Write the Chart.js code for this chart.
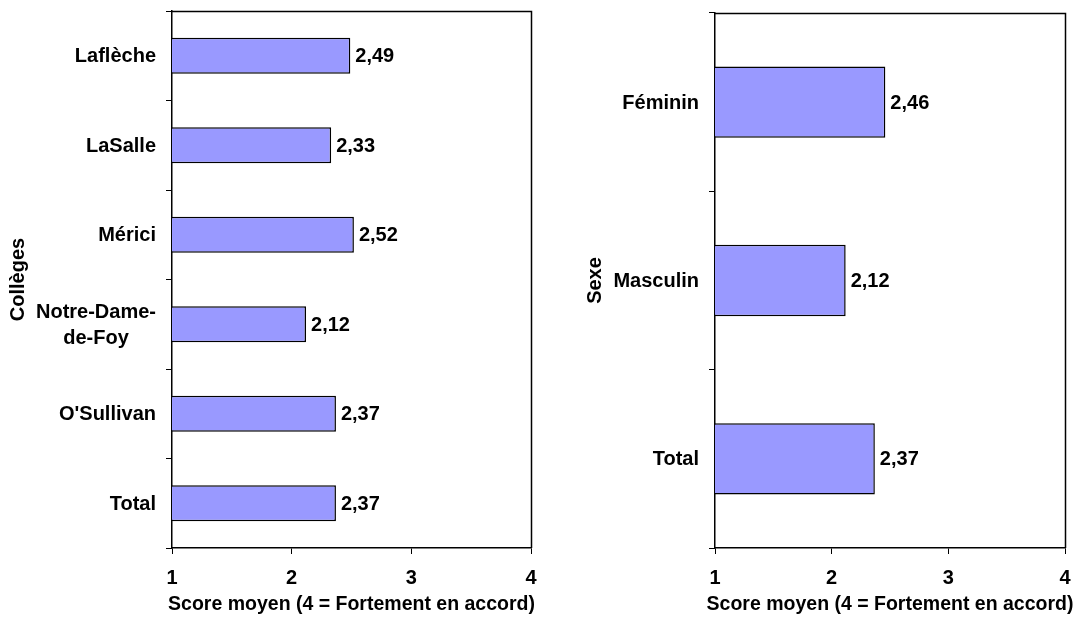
<!DOCTYPE html>
<html>
<head>
<meta charset="utf-8">
<script src="https://cdn.jsdelivr.net/npm/chart.js@4.4.1/dist/chart.umd.min.js"></script>
<style>
  html, body { margin: 0; padding: 0; background: #fff; }
  .box { position: absolute; top: 0; height: 621px; }
  #left { left: 0; width: 545px; }
  #right { left: 545px; width: 533px; }
</style>
</head>
<body>
<div class="box" id="left"><canvas id="collegesChart"></canvas></div>
<div class="box" id="right"><canvas id="sexeChart"></canvas></div>
<script>
// data
const collegeLabels = ['Laflèche', 'LaSalle', 'Mérici', ['Notre-Dame-', 'de-Foy'], "O'Sullivan", 'Total'];
const collegeScores = [2.49, 2.33, 2.52, 2.12, 2.37, 2.37];
const sexeLabels = ['Féminin', 'Masculin', 'Total'];
const sexeScores = [2.46, 2.12, 2.37];
const scoreTicks = [1, 2, 3, 4];
const xTitle = 'Score moyen (4 = Fortement en accord)';

const FONT = '"Liberation Sans", Arial, sans-serif';
const FONT_SIZE = 20;
const TICK_LEN = 6;
const LABEL_PAD = 10;

// frame round the plot area (top + right lines)
const framePlugin = {
    id: 'frame',
    afterDraw(chart) {
        const { ctx, chartArea: a } = chart;
        ctx.save();
        ctx.strokeStyle = '#000';
        ctx.lineWidth = 1.5;
        ctx.beginPath();
        ctx.moveTo(Math.round(a.left), Math.round(a.top) + 0.5);
        ctx.lineTo(Math.round(a.right) + 0.5, Math.round(a.top) + 0.5);
        ctx.lineTo(Math.round(a.right) + 0.5, Math.round(a.bottom));
        ctx.stroke();
        ctx.restore();
    }
};

// x axis title, drawn by hand so it may be wider than the plot area
const xTitlePlugin = {
    id: 'xTitle',
    afterDraw(chart) {
        const { ctx, chartArea: a } = chart;
        ctx.save();
        ctx.font = 'bold 19.5px ' + FONT;
        ctx.fillStyle = '#000';
        ctx.textAlign = 'center';
        ctx.textBaseline = 'alphabetic';
        ctx.fillText(xTitle, (a.left + a.right) / 2, 610);
        ctx.restore();
    }
};

// value labels after each bar, with comma decimals
const valueLabels = {
    id: 'valueLabels',
    afterDatasetsDraw(chart) {
        const ctx = chart.ctx;
        const values = chart.data.datasets[0].data;
        ctx.save();
        ctx.font = 'bold ' + FONT_SIZE + 'px ' + FONT;
        ctx.fillStyle = '#000';
        ctx.textAlign = 'left';
        ctx.textBaseline = 'middle';
        chart.getDatasetMeta(0).data.forEach((bar, i) => {
            ctx.fillText(values[i].toFixed(2).replace('.', ','), bar.x + 5, bar.y + 1);
        });
        ctx.restore();
    }
};

// category labels: right aligned as a block, lines centred inside it
const catLabels = {
    id: 'catLabels',
    afterDraw(chart) {
        const scale = chart.scales.y;
        const ctx = chart.ctx;
        const right = scale.right - TICK_LEN - LABEL_PAD;
        const lineH = 26;
        ctx.save();
        ctx.font = 'bold ' + FONT_SIZE + 'px ' + FONT;
        ctx.fillStyle = '#000';
        ctx.textAlign = 'center';
        ctx.textBaseline = 'middle';
        chart.data.labels.forEach((label, i) => {
            const lines = [].concat(label);
            const w = Math.max(...lines.map(l => ctx.measureText(l).width));
            const y0 = scale.getPixelForTick(i) - (lines.length - 1) * lineH / 2 + 1;
            lines.forEach((l, j) => ctx.fillText(l, right - w / 2, y0 + j * lineH));
        });
        ctx.restore();
    }
};

const makeChart = (id, labels, values, yTitle, yWidth, yTitlePad, pad) => {
    return new Chart(document.getElementById(id), {
        type: 'bar',
        data: {
            labels: labels,
            datasets: [{
                data: values,
                backgroundColor: '#9999ff',
                borderColor: '#000',
                borderWidth: 1.5,
                categoryPercentage: 0.4,
                barPercentage: 1
            }]
        },
        options: {
            indexAxis: 'y',
            responsive: true,
            maintainAspectRatio: false,
            animation: false,
            layout: { padding: pad },
            plugins: {
                legend: { display: false },
                tooltip: { enabled: false }
            },
            scales: {
                x: {
                    min: 1,
                    max: 4,
                    afterBuildTicks: (scale) => { scale.ticks = scoreTicks.map(v => ({ value: v })); },
                    afterFit: (scale) => {
                        scale.height = 73;
                        scale.paddingLeft = 0;
                        scale.paddingRight = 0;
                    },
                    grid: { drawOnChartArea: false, tickLength: TICK_LEN, color: '#000' },
                    border: { color: '#000', width: 1.5 },
                    ticks: {
                        color: '#000',
                        padding: 12,
                        font: { family: FONT, size: FONT_SIZE, weight: 'bold' }
                    },
                    title: { display: false }
                },
                y: {
                    afterFit: (scale) => {
                        scale.width = yWidth;
                        scale.paddingTop = 0;
                        scale.paddingBottom = 0;
                    },
                    grid: { drawOnChartArea: false, offset: true, tickLength: TICK_LEN, color: '#000' },
                    border: { color: '#000', width: 1.5 },
                    ticks: {
                        color: 'rgba(0,0,0,0)',
                        padding: LABEL_PAD,
                        font: { family: FONT, size: FONT_SIZE, weight: 'bold' }
                    },
                    title: {
                        display: true,
                        text: yTitle,
                        color: '#000',
                        padding: { top: yTitlePad, bottom: 0 },
                        font: { family: FONT, size: FONT_SIZE, weight: 'bold' }
                    }
                }
            }
        },
        plugins: [framePlugin, xTitlePlugin, valueLabels, catLabels]
    });
};

makeChart('collegesChart', collegeLabels, collegeScores, 'Collèges', 172, 6,
    { top: 11, right: 14, bottom: 0, left: 0 });
makeChart('sexeChart', sexeLabels, sexeScores, 'Sexe', 170, 38,
    { top: 13, right: 13, bottom: 0, left: 0 });
</script>
</body>
</html>
